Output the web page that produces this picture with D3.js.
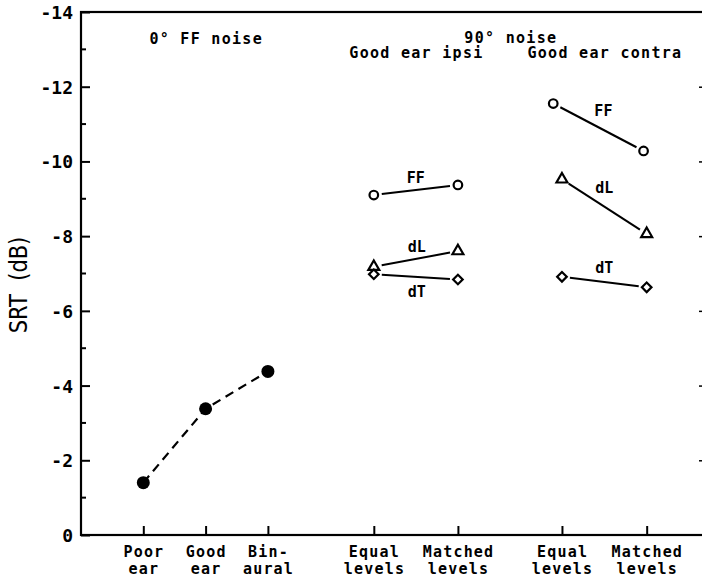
<!DOCTYPE html>
<html lang="en">
	<head>
		<meta charset="utf-8">
		<title>SRT by condition</title>
		<script type="text/javascript" src="https://cdnjs.cloudflare.com/ajax/libs/d3/7.8.5/d3.min.js"></script>
		<style type="text/css">
			body { margin: 0; background: #fff; }
			text { fill: #000; }
			.mono { font-family: "DejaVu Sans Mono", monospace; font-weight: bold; }
		</style>
	</head>
	<body>
		<script type="text/javascript">
			// categories along the x axis (two text lines each) and where they sit on the x scale
			var categories = ["Poor|ear", "Good|ear", "Bin-|aural", "Equal|levels", "Matched|levels", "Equal|levels", "Matched|levels"];
			var categoryPos = [1, 2, 3, 4.7, 6.05, 7.72, 9.08];
			var yTicks = [0, -2, -4, -6, -8, -10, -12, -14];

			// 0 deg FF noise (filled circles, dashed line)
			var frontSRT = [-1.4, -3.38, -4.38];

			// 90 deg noise, good ear ipsi: equal levels, matched levels
			var ipsiFF = [-9.1, -9.37];
			var ipsiDL = [-7.18, -7.6];
			var ipsiDT = [-6.98, -6.84];

			// 90 deg noise, good ear contra: equal levels, matched levels
			var contraFF = [-11.55, -10.28];
			var contraDL = [-9.52, -8.06];
			var contraDT = [-6.91, -6.63];
			var contraFFPos = [7.58, 9.03];

			var w = 702;
			var h = 581;
			var padL = 81, padR = 704, padT = 12, padB = 535;
			var frameR = 709; // right edge of the frame lies just outside the picture

			var svg = d3.select("body")
						.append("svg")
						.attr("width", w)
						.attr("height", h);

			var x = d3.scaleLinear().domain([0, 10]).range([padL, padR]);
			var y = d3.scaleLinear().domain([0, -14]).range([padB, padT]);

			// frame
			svg.append("rect")
				.attr("x", padL).attr("y", padT)
				.attr("width", frameR - padL).attr("height", padB - padT)
				.attr("fill", "none").attr("stroke", "#000").attr("stroke-width", 2.2);

			// y axis: major ticks inward, minor ticks at odd values
			var yAxis = d3.axisLeft(y)
				.tickValues(yTicks)
				.tickSize(-9)
				.tickPadding(8)
				.tickFormat(function(d) { return String(d); });
			var gy = svg.append("g").attr("transform", "translate(" + padL + ",0)").call(yAxis);
			gy.select(".domain").remove();
			gy.selectAll("line").attr("stroke-width", 2);
			gy.selectAll("text")
				.attr("class", "mono")
				.attr("font-size", "18px")
				.attr("dy", "0.36em");

			svg.append("g")
				.attr("transform", "translate(" + padL + ",0)")
				.selectAll("line")
				.data(d3.range(-1, -14, -2))
				.enter()
				.append("line")
				.attr("x1", 0).attr("x2", 5)
				.attr("y1", function(d) { return y(d); })
				.attr("y2", function(d) { return y(d); })
				.attr("stroke", "#000").attr("stroke-width", 2);

			// right axis ticks: only their inner ends show at the picture's edge
			var gr = svg.append("g").attr("transform", "translate(" + frameR + ",0)")
				.call(d3.axisRight(y).tickValues(yTicks.slice(1, -1)).tickSize(-10).tickFormat(""));
			gr.select(".domain").remove();
			gr.selectAll("line").attr("stroke-width", 1.5);

			// x axis: ticks inward, two-line labels
			var xAxis = d3.axisBottom(x)
				.tickValues(categoryPos)
				.tickSize(-9)
				.tickFormat("");
			var gx = svg.append("g").attr("transform", "translate(0," + padB + ")").call(xAxis);
			gx.select(".domain").remove();
			gx.selectAll("line").attr("stroke-width", 2);

			var xl = svg.append("g").selectAll("text")
				.data(categories)
				.enter()
				.append("text")
				.attr("class", "mono")
				.attr("font-size", "15px")
				.attr("letter-spacing", "1.2px")
				.attr("text-anchor", "middle")
				.attr("transform", function(d, i) { return "translate(" + (x(categoryPos[i]) + 0.6) + ",557)"; });
			xl.each(function(d) {
				var parts = d.split("|");
				var t = d3.select(this);
				t.append("tspan").attr("x", 0).attr("y", 0).text(parts[0]);
				t.append("tspan").attr("x", 0).attr("y", 17).text(parts[1]);
			});

			// y axis title
			svg.append("text")
				.attr("transform", "translate(27,285) rotate(-90) scale(1.05,1.2)")
				.attr("text-anchor", "middle")
				.attr("font-family", "DejaVu Sans, sans-serif")
				.attr("font-size", "20px")
				.text("SRT\u00a0\u00a0(dB)");

			// group titles
			function title(txt, cx, cy) {
				svg.append("text")
					.attr("class", "mono")
					.attr("font-size", "15px")
					.attr("letter-spacing", "1.3px")
					.attr("text-anchor", "middle")
					.attr("x", cx + 0.6).attr("y", cy)
					.text(txt);
			}
			title("0\u00b0 FF noise", x(categoryPos[1]), 44);
			title("90\u00b0 noise", (x(categoryPos[3]) + x(categoryPos[6])) / 2, 43);
			title("Good ear ipsi", (x(categoryPos[3]) + x(categoryPos[4])) / 2, 58);
			title("Good ear contra", (x(categoryPos[5]) + x(categoryPos[6])) / 2, 58);

			// 0 deg FF noise: dashed line + filled circles
			var frontPts = frontSRT.map(function(d, i) { return [x(categoryPos[i]), y(d)]; });
			svg.append("path")
				.attr("d", d3.line()(frontPts))
				.attr("fill", "none")
				.attr("stroke", "#000")
				.attr("stroke-width", 2.2)
				.attr("stroke-dasharray", "9,6");
			svg.selectAll("circle.front")
				.data(frontPts)
				.enter()
				.append("circle")
				.attr("class", "front")
				.attr("cx", function(d) { return d[0]; })
				.attr("cy", function(d) { return d[1]; })
				.attr("r", 6.5)
				.attr("fill", "#000");

			// 90 deg noise series
			var series = [
				{ name: "FF", values: ipsiFF, pos: [categoryPos[3], categoryPos[4]], shape: "circle", dy: -7, dx: 0 },
				{ name: "dL", values: ipsiDL, pos: [categoryPos[3], categoryPos[4]], shape: "triangle", dy: -7, dx: 1 },
				{ name: "dT", values: ipsiDT, pos: [categoryPos[3], categoryPos[4]], shape: "diamond", dy: 20, dx: 1 },
				{ name: "FF", values: contraFF, pos: contraFFPos, shape: "circle", dy: -11, dx: 5 },
				{ name: "dL", values: contraDL, pos: [categoryPos[5], categoryPos[6]], shape: "triangle", dy: -14, dx: 0 },
				{ name: "dT", values: contraDT, pos: [categoryPos[5], categoryPos[6]], shape: "diamond", dy: -9, dx: 0 }
			];

			var triangle = d3.symbol().type(d3.symbolTriangle).size(52);
			var diamond = d3.symbol().type(d3.symbolSquare).size(46);
			var gap = 8;

			series.forEach(function(s) {
				var p = s.values.map(function(d, i) { return [x(s.pos[i]), y(d)]; });
				var dx = p[1][0] - p[0][0], dy = p[1][1] - p[0][1];
				var len = Math.sqrt(dx * dx + dy * dy);
				var ux = dx / len, uy = dy / len;
				svg.append("line")
					.attr("x1", p[0][0] + ux * gap).attr("y1", p[0][1] + uy * gap)
					.attr("x2", p[1][0] - ux * gap).attr("y2", p[1][1] - uy * gap)
					.attr("stroke", "#000")
					.attr("stroke-width", 2);

				p.forEach(function(q) {
					if (s.shape == "circle") {
						svg.append("circle")
							.attr("cx", q[0]).attr("cy", q[1]).attr("r", 4.3)
							.attr("fill", "none").attr("stroke", "#000").attr("stroke-width", 2.2);
					} else if (s.shape == "triangle") {
						svg.append("path")
							.attr("d", triangle())
							.attr("transform", "translate(" + q[0] + "," + q[1] + ")")
							.attr("fill", "none").attr("stroke", "#000").attr("stroke-width", 2.2);
					} else {
						svg.append("path")
							.attr("d", diamond())
							.attr("transform", "translate(" + q[0] + "," + q[1] + ") rotate(45)")
							.attr("fill", "none").attr("stroke", "#000").attr("stroke-width", 2.2);
					}
				});

				svg.append("text")
					.attr("class", "mono")
					.attr("font-size", "15px")
					.attr("text-anchor", "middle")
					.attr("x", (p[0][0] + p[1][0]) / 2 + s.dx)
					.attr("y", (p[0][1] + p[1][1]) / 2 + s.dy)
					.text(s.name);
			});
		</script>
	</body>
</html>
